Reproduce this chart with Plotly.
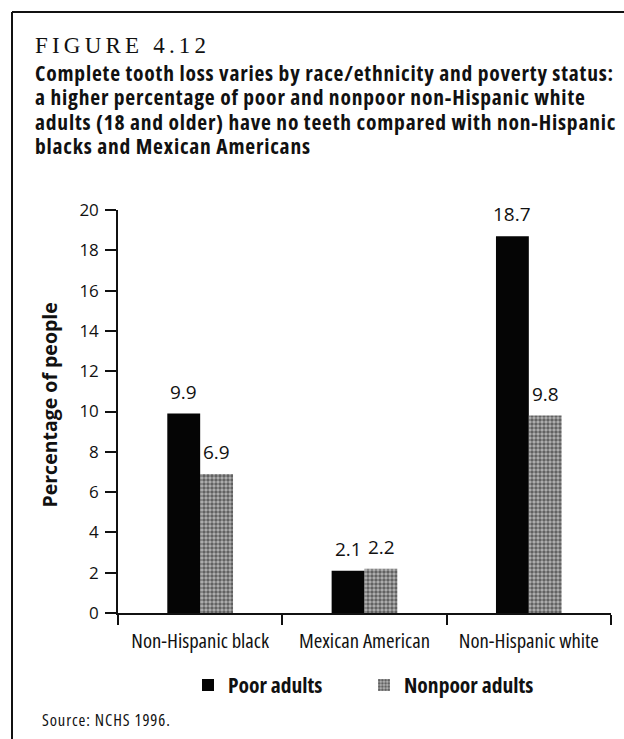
import plotly.graph_objects as go

# Data
groups = ["Non-Hispanic black", "Mexican American", "Non-Hispanic white"]
series_names = ["Poor adults", "Nonpoor adults"]
poor_adults = [9.9, 2.1, 18.7]
nonpoor_adults = [6.9, 2.2, 9.8]
y_ticks = [0, 2, 4, 6, 8, 10, 12, 14, 16, 18, 20]
title_lines = [
    "Complete tooth loss varies by race/ethnicity and poverty status:",
    "a higher percentage of poor and nonpoor non-Hispanic white",
    "adults (18 and older) have no teeth compared with non-Hispanic",
    "blacks and Mexican Americans",
]

W, H = 624, 739
PL, PR, PT, PB = 118, 611, 210, 613  # plot area in pixels
INK = "#111111"
FONT = "Open Sans"
BAR_PX = 33  # rendered width of one bar, used to centre the value labels


def px(x):
    return (x - PL) / (PR - PL)


def py(y):
    return (PB - y) / (PB - PT)


def cond(s, spacing=0):
    style = "font-stretch:condensed"
    if spacing:
        style += f";letter-spacing:{spacing}px"
    return f"<span style='{style}'>{s}</span>"


def font(size, bold=False):
    d = dict(family=FONT, size=size, color=INK)
    if bold:
        d["weight"] = "bold"
    return d


fig = go.Figure()
fig.add_trace(go.Bar(
    name=cond(series_names[0]), x=groups, y=poor_adults,
    marker=dict(color="#050505", line=dict(width=0)),
))
fig.add_trace(go.Bar(
    name=cond(series_names[1]), x=groups, y=nonpoor_adults,
    marker=dict(color="#7a7a7a", line=dict(width=0),
                pattern=dict(shape=".", fgcolor="#101010", bgcolor="#b4b4b4",
                             size=4, solidity=0.6)),
))

fig.update_layout(
    width=W, height=H,
    margin=dict(l=PL, r=W - PR, t=PT, b=H - PB, pad=0, autoexpand=False),
    paper_bgcolor="white", plot_bgcolor="white",
    barmode="group", bargap=0.6, bargroupgap=0,
    font=font(17),
    showlegend=True,
    legend=dict(orientation="h", x=px(188), y=py(685), xanchor="left", yanchor="middle",
                font=font(21.5, bold=True), entrywidth=131, itemwidth=30,
                bgcolor="rgba(0,0,0,0)"),
    xaxis=dict(
        type="category", range=[-0.5, 2.5], tickson="boundaries",
        tickmode="array", tickvals=groups, ticktext=[cond(g) for g in groups],
        ticks="outside", ticklen=10, tickwidth=1.5, tickcolor=INK,
        showline=True, linecolor=INK, linewidth=1.5,
        showgrid=False, zeroline=False, tickangle=0,
        tickfont=font(20.7), ticklabelstandoff=8,
    ),
    yaxis=dict(
        range=[0, 20], tickmode="array", tickvals=y_ticks,
        ticktext=[str(v) for v in y_ticks],
        ticks="outside", ticklen=11, tickwidth=1.5, tickcolor=INK,
        showline=True, linecolor=INK, linewidth=1.5,
        showgrid=False, zeroline=False,
        tickfont=font(17), ticklabelstandoff=3,
    ),
)

annotations = [
    dict(text="<span style='letter-spacing:4.2px'>FIGURE 4.12</span>",
         x=px(33), y=py(45), xanchor="left", yanchor="middle",
         font=dict(family="Liberation Serif, DejaVu Serif, serif", size=23, color=INK)),
    dict(text="Percentage of people", x=px(48.5), y=py(405), textangle=-90,
         xanchor="center", yanchor="middle", font=font(19.5, bold=True)),
    dict(text=cond("Source: NCHS 1996.", 0.9), x=px(40), y=py(719),
         xanchor="left", yanchor="middle", font=font(16.5)),
]
for line, yc in zip(title_lines, [72.5, 96.8, 121.3, 145.8]):
    annotations.append(dict(text=cond(line, 0.8), x=px(33), y=py(yc), xanchor="left",
                            yanchor="middle", font=font(21.5, bold=True)))
for a in annotations:
    a.update(xref="paper", yref="paper", showarrow=False)

# Value labels above each bar, placed on the data axes
for values, side in [(poor_adults, -1), (nonpoor_adults, 1)]:
    for g, v in zip(groups, values):
        annotations.append(dict(
            text=f"{v:.1f}", x=g, y=v, xref="x", yref="y", showarrow=False,
            xanchor="center", yanchor="bottom", xshift=side * BAR_PX / 2, yshift=7,
            font=font(19)))

fig.update_layout(annotations=annotations)

# Frame around the figure (top and left rules)
fig.add_shape(type="line", xref="paper", yref="paper",
              x0=px(12), y0=py(12), x1=px(624), y1=py(12),
              line=dict(color=INK, width=2))
fig.add_shape(type="line", xref="paper", yref="paper",
              x0=px(12), y0=py(12), x1=px(12), y1=py(739),
              line=dict(color=INK, width=2))

fig.write_html("out.html")
